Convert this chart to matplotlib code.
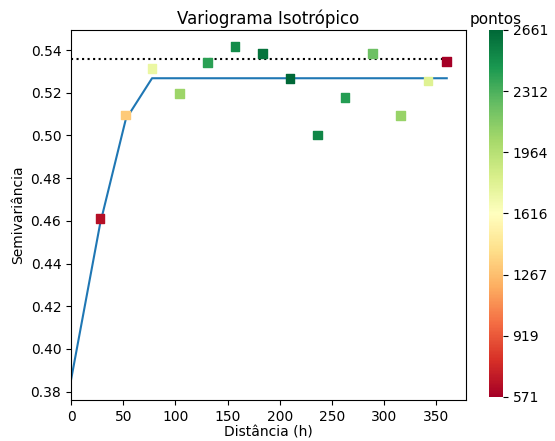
"""
Isotropic variogram with point counts per lag.
"""

import matplotlib
matplotlib.use("Agg")
import matplotlib.pyplot as plt
import numpy as np

lags = [27.8, 52.4, 77.6, 104.1, 130.6, 157.1, 183.3, 209.8, 236.3, 262.5,
        289.0, 315.5, 342.0, 359.9]
semivar = [0.4612, 0.5096, 0.5315, 0.5198, 0.5343, 0.5416, 0.5383, 0.5268,
           0.5002, 0.5177, 0.5383, 0.5093, 0.5255, 0.5346]
pontos = [640, 1320, 1730, 2060, 2400, 2500, 2610, 2661, 2530, 2420, 2220,
          2080, 1790, 571]

# fitted model evaluated at the lags
model_x = [0.0] + lags
model_y = [0.3855, 0.4585, 0.5075, 0.5268, 0.5268, 0.5268, 0.5268, 0.5268,
           0.5268, 0.5268, 0.5268, 0.5268, 0.5268, 0.5268, 0.5268]
sill = 0.5357

fig = plt.figure(figsize=(5.55, 4.41), dpi=100)
ax = fig.add_axes([0.128, 0.093, 0.711, 0.839])

ax.plot(model_x, model_y, color="#1f77b4", lw=1.5, zorder=1)
ax.plot([0, max(lags)], [sill, sill], ":", color="k", lw=1.5, zorder=1)
sc = ax.scatter(lags, semivar, c=pontos, cmap="RdYlGn", marker="s", s=40,
                vmin=min(pontos), vmax=max(pontos), zorder=2)

ax.set_xlim(0, 378)
ax.set_ylim(0.3761, 0.5494)
ax.set_xticks(np.arange(0, 351, 50))
ax.set_yticks(np.arange(0.38, 0.541, 0.02))
ax.set_title("Variograma Isotrópico", pad=4)
ax.set_xlabel("Distância (h)", labelpad=1)
ax.set_ylabel("Semivariância")

cax = fig.add_axes([0.881, 0.1, 0.025, 0.832])
cbar = fig.colorbar(sc, cax=cax)
ticks = np.linspace(min(pontos), max(pontos), 7)
cbar.set_ticks(ticks)
cbar.set_ticklabels([str(int(t)) for t in ticks])
cbar.outline.set_visible(False)
cax.set_title("pontos", fontsize=11, pad=4)

fig.savefig("out.png", dpi=100)
